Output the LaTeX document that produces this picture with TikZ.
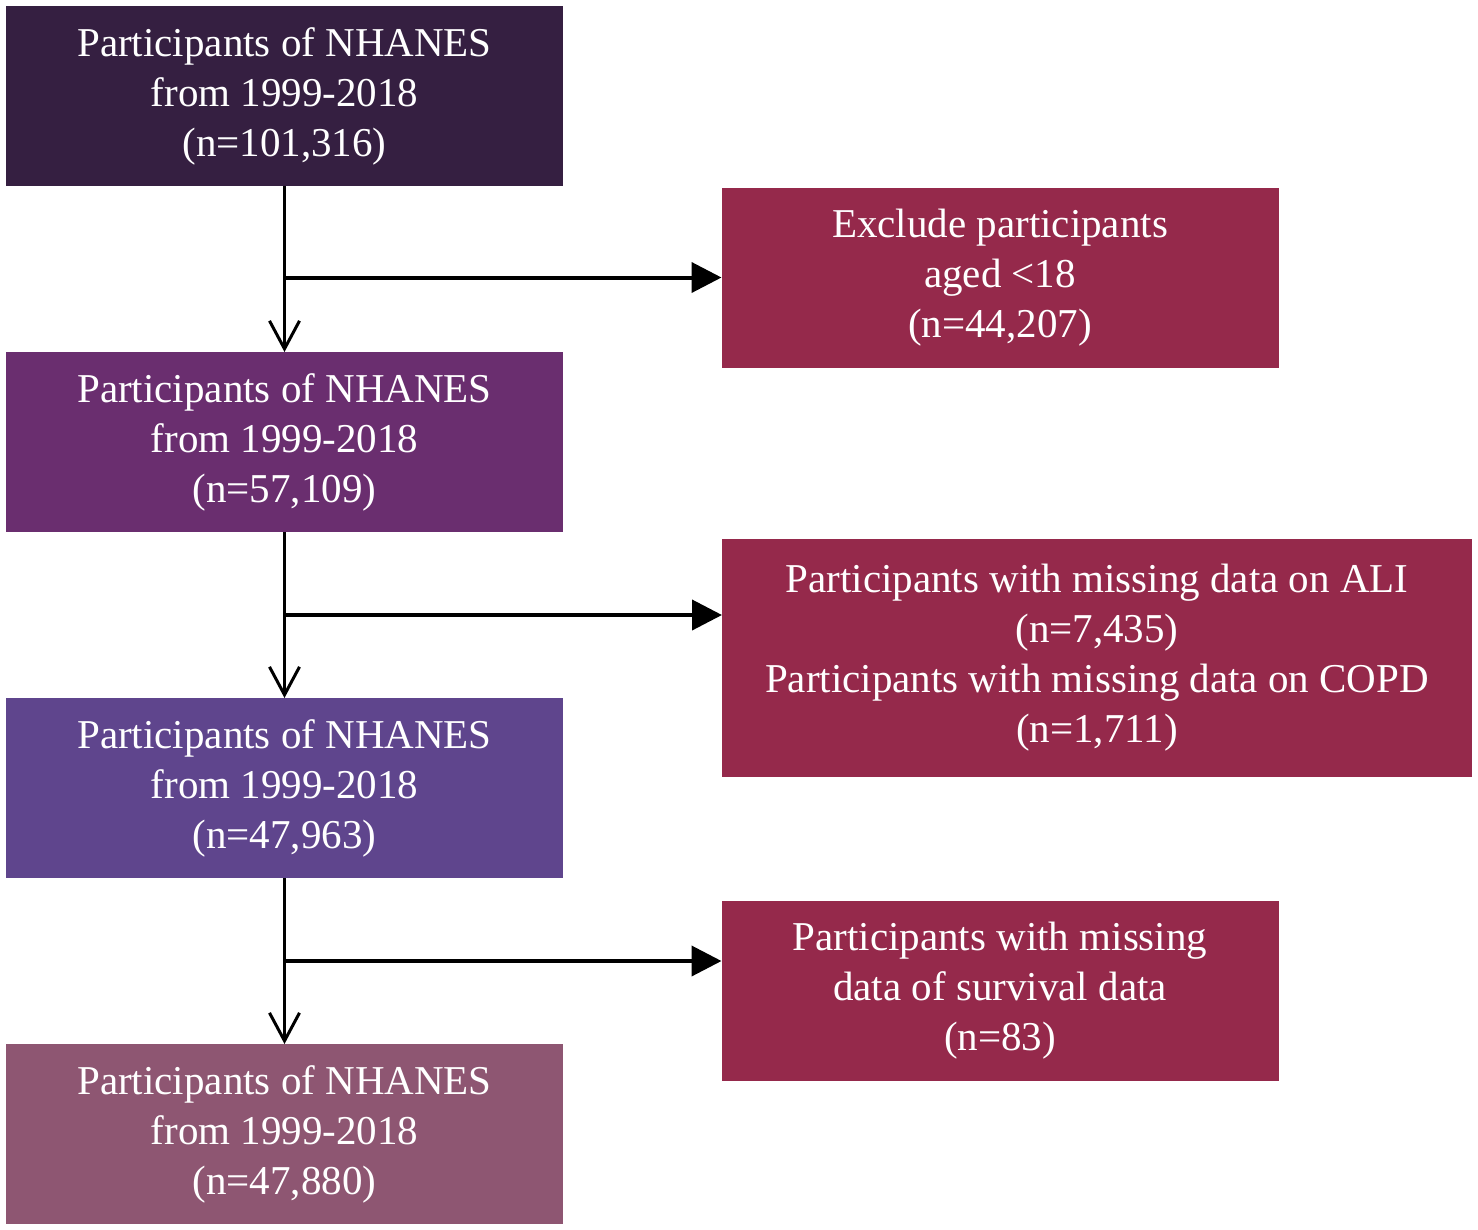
\documentclass[tikz,border=0pt]{standalone}
\usepackage{fontspec}
\setmainfont{Liberation Serif}
\usetikzlibrary{positioning}
\usetikzlibrary{arrows.meta}
\usetikzlibrary{calc}

\definecolor{stageone}{HTML}{351F41}
\definecolor{stagetwo}{HTML}{6A2E6F}
\definecolor{stagethree}{HTML}{5F458D}
\definecolor{stagefour}{HTML}{8E5672}
\definecolor{exclred}{HTML}{95294B}

\begin{document}
\begin{tikzpicture}
[x=1pt,y=-1pt,
 stagebox/.style={fill=#1,text=white,align=center,inner sep=0pt,outer sep=0pt,
   minimum width=557pt,minimum height=180pt,font=\fontsize{41}{50}\selectfont},
 exclbox/.style={stagebox=exclred},
 downarrow/.style={-{Straight Barb[length=28pt,width=30pt]},line width=3pt},
 sidearrow/.style={-{Triangle[length=30pt,width=30pt]},line width=4pt},
 node distance=166pt]
\useasboundingbox (0,0) rectangle (1478,1229);

% left column
\node[stagebox=stageone] (box1) at (284.5,96)
  {Participants of NHANES\\from 1999-2018\\(n=101,316)};
\node[stagebox=stagetwo,below=of box1] (box2)
  {Participants of NHANES\\from 1999-2018\\(n=57,109)};
\node[stagebox=stagethree,below=of box2] (box3)
  {Participants of NHANES\\from 1999-2018\\(n=47,963)};
\node[stagebox=stagefour,below=of box3] (box4)
  {Participants of NHANES\\from 1999-2018\\(n=47,880)};

% exclusions
\node[exclbox] (excl1) at (1000,277.5)
  {Exclude participants\\aged <18\\(n=44,207)};
\node[exclbox,minimum width=750pt,minimum height=238pt] (excl2) at (1097,658)
  {Participants with missing data on ALI\\(n=7,435)\\Participants with missing data on COPD\\(n=1,711)};
\node[exclbox] (excl3) at (1000,991)
  {Participants with missing\\data of survival data\\(n=83)};

\draw[downarrow] (box1) -- (box2);
\draw[downarrow] (box2) -- (box3);
\draw[downarrow] (box3) -- (box4);

\coordinate (split2) at ($(box2.south)!0.5!(box3.north)$);
\coordinate (split3) at ($(box3.south)!0.5!(box4.north)$);
\draw[sidearrow] (box1.south |- excl1.west) -- (excl1.west);
\draw[sidearrow] (split2) -- (split2 -| excl2.west);
\draw[sidearrow] (split3) -- (split3 -| excl3.west);
\end{tikzpicture}
\end{document}
